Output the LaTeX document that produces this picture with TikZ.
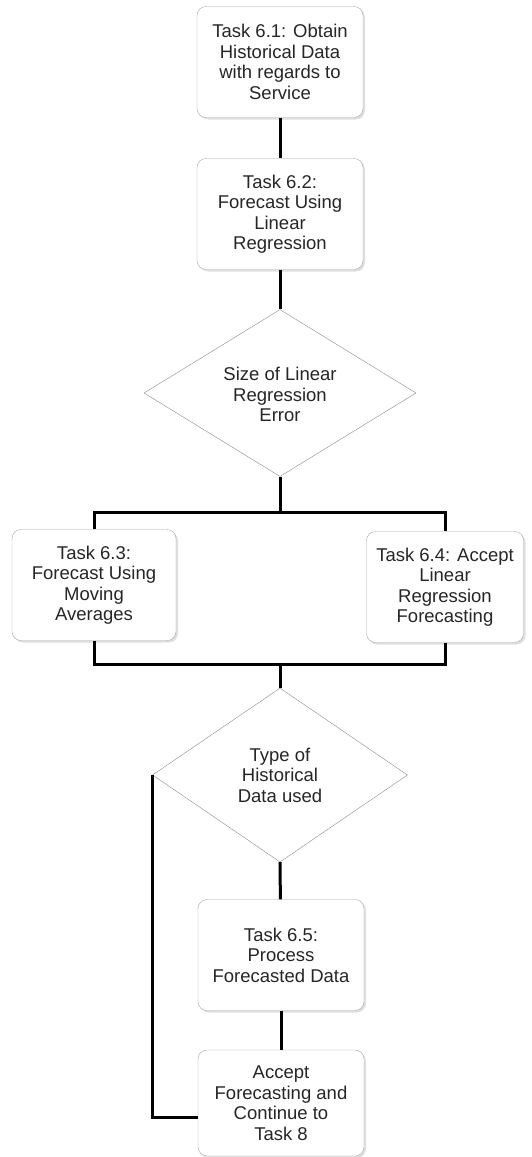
\documentclass[tikz,border=0pt]{standalone}
\usepackage{fontspec}
\setmainfont{Liberation Sans}
\usepackage{tikz}
\usetikzlibrary{shapes.geometric, positioning, calc, shadows}
\tikzset{
  % Task boxes
  taskbox/.style={draw=black!35, rounded corners=9pt, fill=white, align=center,
    minimum width=166pt, minimum height=111pt, inner sep=2pt, text=black!85,
    font=\fontsize{18.5}{20.5}\selectfont,
    drop shadow={opacity=0.25, shadow xshift=2pt, shadow yshift=-2pt}},
  % Decision nodes
  decision/.style={diamond, draw=black!45, fill=white, align=center, inner sep=0pt,
    aspect=1.6, text=black!85, font=\fontsize{18.5}{20.5}\selectfont},
  % Connectors
  link/.style={line width=3pt, draw=black},
}

\begin{document}
\begin{tikzpicture}[x=1pt, y=-1pt]
  \useasboundingbox (0,0) rectangle (531,1157);

  \node[taskbox] (obtain) at (280,62) {Task 6.1: Obtain\\Historical Data\\with regards to\\Service};
  \node[taskbox] (linreg) at (280,214) {Task 6.2:\\Forecast Using\\Linear\\Regression};
  \node[decision, minimum width=272pt, minimum height=167pt] (errsize) at (280,393)
    {\\[-4pt]Size of Linear\\Regression\\Error};
  \node[taskbox, minimum width=164pt] (movavg) at (94,585) {Task 6.3:\\Forecast Using\\Moving\\Averages};
  \node[taskbox, minimum width=157pt] (acceptlr) at (445,587) {Task 6.4: Accept\\Linear\\Regression\\Forecasting};
  \node[decision, minimum width=255pt, minimum height=174pt] (datatype) at (280,775)
    {Type of\\Historical\\Data used};
  \node[taskbox] (process) at (281,955) {Task 6.5:\\Process\\Forecasted Data};
  \node[taskbox, minimum height=106pt] (accept) at (281,1103) {Accept\\Forecasting and\\Continue to\\Task 8};

  % Main flow
  \draw[link] (obtain) -- (linreg);
  \draw[link] (linreg) -- (errsize.north);
  \draw[link] (errsize.south) -- ++(0,36) coordinate (split) -| (movavg.north);
  \draw[link] (split) -| (acceptlr.north);
  \draw[link] (movavg.south) -- ++(0,24) coordinate (mleft)
    -- (mleft -| datatype.north) coordinate (merge) -- (datatype.north);
  \draw[link] (acceptlr.south) |- (merge);
  \draw[link] (datatype.south) -- (process);
  \draw[link] (process) -- (accept);
  % Return path
  \draw[link] (datatype.west) |- ($(accept.west)+(0,14)$);
\end{tikzpicture}
\end{document}
